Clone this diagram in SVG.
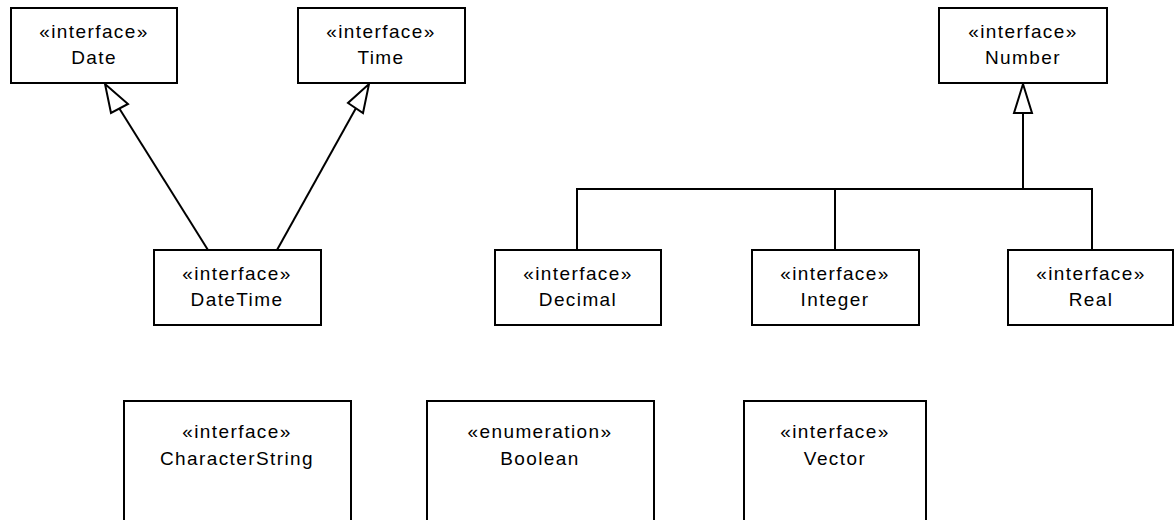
<svg xmlns="http://www.w3.org/2000/svg" width="1174" height="520" viewBox="0 0 1174 520">
  <style>
    .box { fill: #ffffff; stroke: #000000; stroke-width: 2; }
    .lbl { font-family: "Liberation Sans", Arial, sans-serif; font-size: 19px; letter-spacing: 1.4px; fill: #000000; text-anchor: middle; }
    .edge { fill: none; stroke: #000000; stroke-width: 2; }
    .head { fill: #ffffff; stroke: #000000; stroke-width: 2; stroke-linejoin: miter; }
  </style>
  <rect width="1174" height="520" fill="#ffffff"/>

  <!-- generalization connectors -->
  <g id="connectors">
    <!-- DateTime -> Date -->
    <line class="edge" x1="208" y1="250" x2="119" y2="108"/>
    <polygon class="head" points="105,84 128,104 111,113"/>
    <!-- DateTime -> Time -->
    <line class="edge" x1="277" y1="250" x2="356" y2="108"/>
    <polygon class="head" points="369,84 363,113 348,103"/>
    <!-- Decimal / Integer / Real -> Number -->
    <polyline class="edge" points="577,250 577,189 1092,189 1092,250"/>
    <line class="edge" x1="835" y1="189" x2="835" y2="250"/>
    <line class="edge" x1="1023" y1="189" x2="1023" y2="113"/>
    <polygon class="head" points="1023,84 1032,113 1014,113"/>
  </g>

  <g id="node-date">
    <rect class="box" x="11" y="8" width="166" height="75"/>
    <text class="lbl" x="94" y="38">«interface»</text>
    <text class="lbl" x="94" y="64">Date</text>
  </g>
  <g id="node-time">
    <rect class="box" x="298" y="8" width="167" height="75"/>
    <text class="lbl" x="381" y="38">«interface»</text>
    <text class="lbl" x="381" y="64">Time</text>
  </g>
  <g id="node-number">
    <rect class="box" x="939" y="8" width="168" height="75"/>
    <text class="lbl" x="1023" y="38">«interface»</text>
    <text class="lbl" x="1023" y="64">Number</text>
  </g>
  <g id="node-datetime">
    <rect class="box" x="154" y="250" width="167" height="75"/>
    <text class="lbl" x="237" y="280">«interface»</text>
    <text class="lbl" x="237" y="306">DateTime</text>
  </g>
  <g id="node-decimal">
    <rect class="box" x="495" y="250" width="166" height="75"/>
    <text class="lbl" x="578" y="280">«interface»</text>
    <text class="lbl" x="578" y="306">Decimal</text>
  </g>
  <g id="node-integer">
    <rect class="box" x="752" y="250" width="167" height="75"/>
    <text class="lbl" x="835" y="280">«interface»</text>
    <text class="lbl" x="835" y="306">Integer</text>
  </g>
  <g id="node-real">
    <rect class="box" x="1008" y="250" width="165" height="75"/>
    <text class="lbl" x="1091" y="280">«interface»</text>
    <text class="lbl" x="1091" y="306">Real</text>
  </g>
  <g id="node-characterstring">
    <rect class="box" x="124" y="401" width="227" height="130"/>
    <text class="lbl" x="237" y="438">«interface»</text>
    <text class="lbl" x="237" y="465">CharacterString</text>
  </g>
  <g id="node-boolean">
    <rect class="box" x="427" y="401" width="227" height="130"/>
    <text class="lbl" x="540" y="438">«enumeration»</text>
    <text class="lbl" x="540" y="465">Boolean</text>
  </g>
  <g id="node-vector">
    <rect class="box" x="744" y="401" width="182" height="130"/>
    <text class="lbl" x="835" y="438">«interface»</text>
    <text class="lbl" x="835" y="465">Vector</text>
  </g>
</svg>
